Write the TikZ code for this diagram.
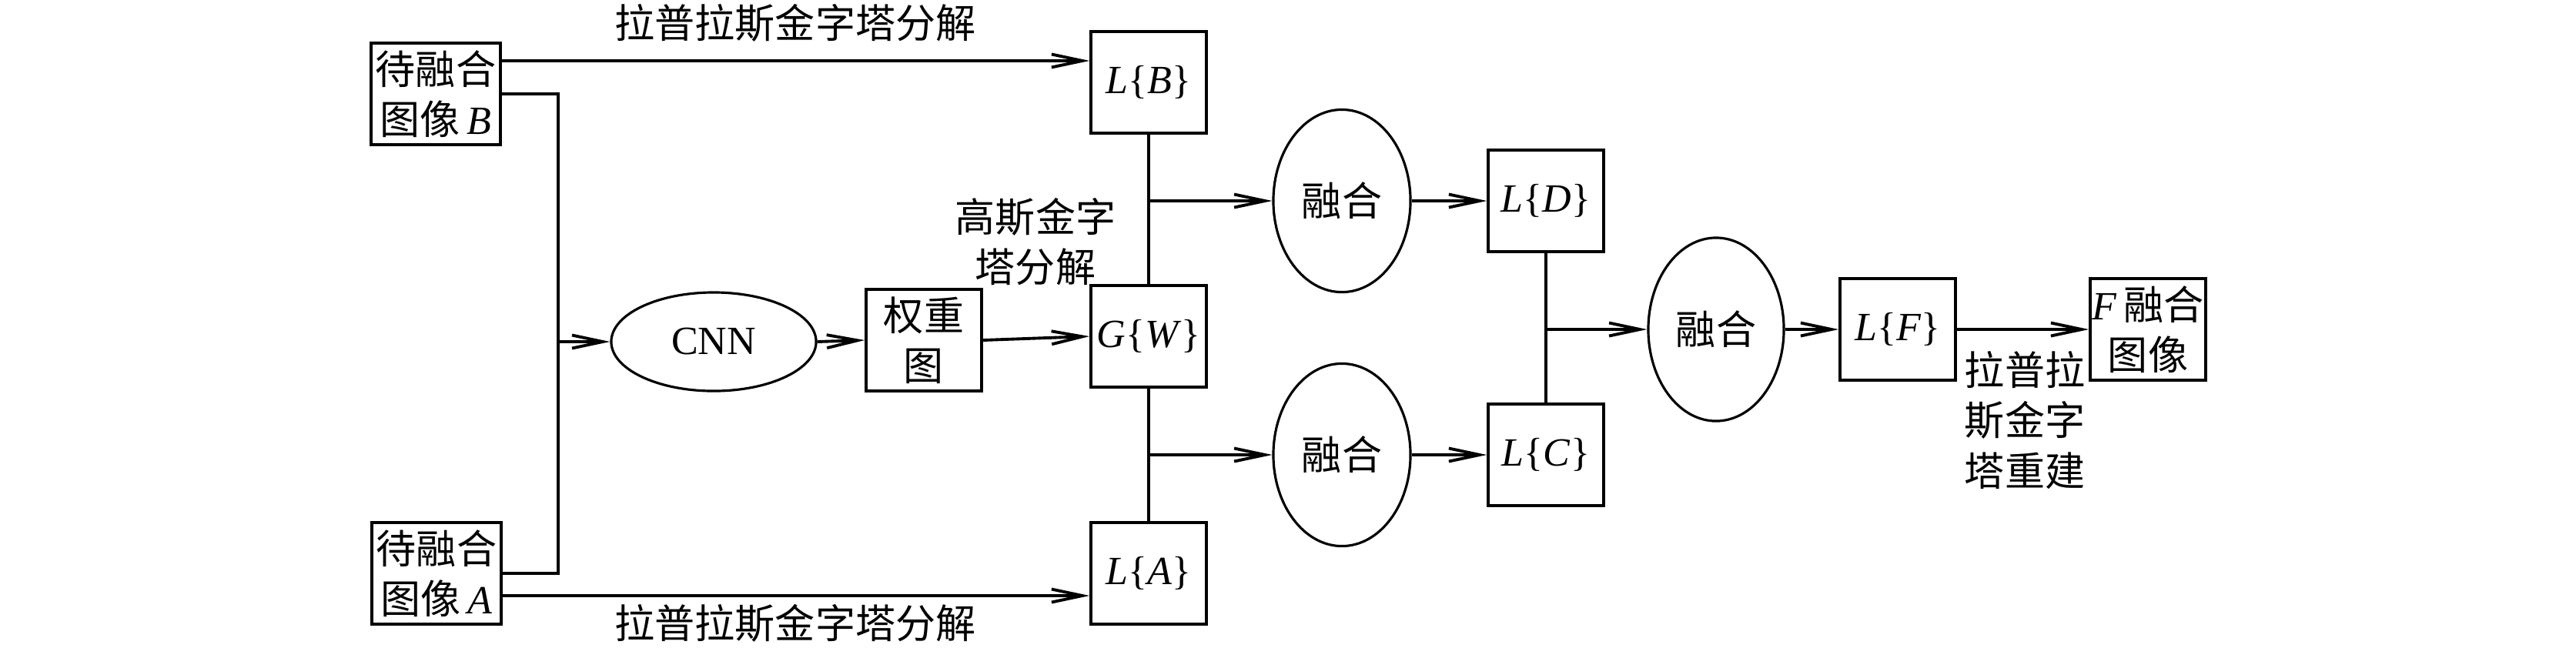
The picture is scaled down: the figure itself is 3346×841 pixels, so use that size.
\documentclass[tikz,border=0pt]{standalone}
\usepackage{fontspec}
\setmainfont{Liberation Serif}
\newfontfamily\cjk{Noto Sans CJK SC}
\usetikzlibrary{shapes.geometric,arrows.meta,calc}
\newcommand{\zh}[1]{{\cjk #1}}
\begin{document}
\begin{tikzpicture}[x=0.01cm,y=-0.01cm,
  every node/.style={font=\fontsize{14.8pt}{18.5pt}\selectfont},
  box/.style={draw,line width=1pt,inner sep=0pt,align=center,minimum width=1.5cm,minimum height=1.32cm},
  inbox/.style={box,minimum width=1.68cm},
  oval/.style={draw,ellipse,line width=0.9pt,inner sep=0pt,minimum width=1.78cm,minimum height=2.37cm},
  conn/.style={line width=0.9pt},
  arr/.style={line width=1.1pt,-{Straight Barb[length=4mm,width=1.7mm]}},
  lbl/.style={align=center,inner sep=0pt}]
\path[use as bounding box] (0,0) rectangle (3346,841);
% nodes
\node[inbox] (B) at (566,122) {\zh{待融合}\\\zh{图像}\,\textit{B}};
\node[inbox] (A) at (567,745) {\zh{待融合}\\\zh{图像}\,\textit{A}};
\node[oval,minimum width=2.66cm,minimum height=1.28cm] (CNN) at (927,444) {CNN};
\node[box] (W) at (1200,442) {\zh{权重}\\\zh{图}};
\node[box] (LB) at (1492,107) {\textit{L}\{\textit{B}\}};
\node[box] (GW) at (1492,437) {\textit{G}\{\textit{W}\}};
\node[box] (LA) at (1492,745) {\textit{L}\{\textit{A}\}};
\node[oval] (F1) at (1743,261) {\zh{融合}};
\node[oval] (F2) at (1743,591) {\zh{融合}};
\node[box] (LD) at (2008,261) {\textit{L}\{\textit{D}\}};
\node[box] (LC) at (2008,591) {\textit{L}\{\textit{C}\}};
\node[oval,minimum width=1.76cm,minimum height=2.38cm] (F3) at (2229,428) {\zh{融合}};
\node[box] (LF) at (2465,428) {\textit{L}\{\textit{F}\}};
\node[box] (FF) at (2790,428) {\textit{F}\,\zh{融合}\\\zh{图像}};
% labels
\node[lbl] (t1) at (1033,30) {\zh{拉普拉斯金字塔分解}};
\node[lbl] (t2) at (1033,810) {\zh{拉普拉斯金字塔分解}};
\node[lbl] (t3) at (1345,314) {\zh{高斯金字}\\\zh{塔分解}};
\node[lbl] (t4) at (2630,546) {\zh{拉普拉}\\\zh{斯金字}\\\zh{塔重建}};
% connectors
\coordinate (b1) at ([yshift=4.3mm]B.east);
\coordinate (a1) at ([yshift=-2.9mm]A.east);
\draw[arr] (b1) -- (b1 -| LB.west);
\draw[arr] (a1) -- (a1 -| LA.west);
\coordinate (jx) at (725,444);
\draw[conn] (B.east) -| (jx) |- (A.east);
\draw[arr] (jx) -- (CNN.west);
\draw[arr] (CNN.east) -- (W.west);
\draw[arr] (W.east) -- (GW.west);
\draw[conn] (LB.south) -- (GW.north);
\draw[conn] (GW.south) -- (LA.north);
\draw[arr] (LB.south |- F1.west) -- (F1.west);
\draw[arr] (LA.north |- F2.west) -- (F2.west);
\draw[arr] (F1.east) -- (LD.west);
\draw[arr] (F2.east) -- (LC.west);
\draw[conn] (LD.south) -- (LC.north);
\draw[arr] (LD.south |- F3.west) -- (F3.west);
\draw[arr] (F3.east) -- (LF.west);
\draw[arr] (LF.east) -- (FF.west);
\end{tikzpicture}
\end{document}
